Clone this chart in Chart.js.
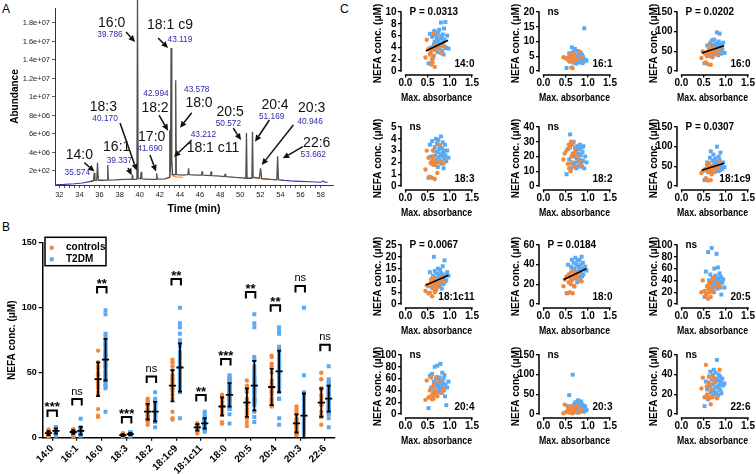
<!DOCTYPE html>
<html>
<head>
<meta charset="utf-8">
<script src="https://cdn.jsdelivr.net/npm/chart.js@4.4.1/dist/chart.umd.min.js"></script>
<style>
html,body{margin:0;padding:0;background:#fff;}
body{width:756px;height:474px;position:relative;overflow:hidden;font-family:'Liberation Sans',Arial,sans-serif;}
canvas{position:absolute;}
.panel{position:absolute;font-size:12px;line-height:12px;color:#000;}
</style>
</head>
<body>
<div class="panel" style="left:2px;top:3px">A</div>
<div class="panel" style="left:2px;top:221px">B</div>
<div class="panel" style="left:340px;top:3px">C</div>
<canvas id="chartA" width="340" height="216" style="left:0;top:0"></canvas>
<canvas id="chartB" width="345" height="258" style="left:0;top:216px"></canvas>
<script>
// ================= DATA =================
// ---- Panel A: chromatogram (time in min, abundance in units of 1e6) ----
const chromTime  = [35.2,35.40,35.47,35.54,35.72,35.80,35.88,36.3,36.76,36.82,36.88,37.5,38.5,39.22,39.28,39.34,39.72,39.78,39.84,40.08,40.14,40.2,41.0,41.63,41.69,41.75,42.5,42.93,42.99,43.06,43.12,43.17,43.21,43.27,43.52,43.58,43.64,44.3,44.80,44.86,44.92,45.6,46.14,46.2,46.26,47.04,47.1,47.16,48.0,48.44,48.5,48.56,49.5,50.2,50.56,50.62,50.68,51.16,51.22,51.28,51.9,52.02,52.14,53.0,53.64,53.72,53.8,54.3];
const chromAbund = [0.9,0.95,1.8,0.97,1.0,2.9,1.0,1.0,1.02,2.65,1.02,1.05,1.1,1.1,1.6,1.1,1.1,21,1.2,1.15,1.9,1.15,1.1,1.1,1.75,1.12,1.15,1.3,6.4,1.8,15.3,2.5,3.2,1.6,1.6,11.8,1.6,1.55,1.6,2.3,1.6,1.55,1.55,1.95,1.55,1.5,1.95,1.5,1.45,1.4,1.7,1.4,1.3,1.25,1.2,6.1,1.2,1.2,6.25,1.3,1.2,2.3,1.15,1.1,1.05,3.6,1.05,1.0];
const blueTime   = [31.6,32.5,33.5,34.3,35.0,35.4,null,54.1,55.0,56.0,57.0,58.0,58.3,58.4,58.7];
const blueAbund  = [0.52,0.55,0.62,0.7,0.85,0.93,null,1.0,0.93,0.88,0.84,0.79,0.92,0.8,0.78];
const orangeTime = [42.9,43.1,43.3,43.6,44.0,44.3,null,50.3,50.9,51.5,52.2,52.8];
const orangeAbund= [1.2,1.7,1.5,1.35,1.35,1.3,null,1.2,1.25,1.3,1.2,1.15];
const timeTicks = [32,34,36,38,40,42,44,46,48,50,52,54,56,58];
const abundTickValues = [2e6,4e6,6e6,8e6,1e7,1.2e7,1.4e7,1.6e7,1.8e7];
const abundTickLabels = ['2e+02','4e+06','6e+06','8e+06','1e+07','1.2e+07','1.4e+07','1.6e+07','1.8e+07'];
const peakLabels = ['14:0','16:1','16:0','18:3','17:0','18:2','18:1 c9','18:1 c11','18:0','20:5','20:4','20:3','22:6'];
const peakRTs    = ['35.574','39.337','39.786','40.170','41.690','42.994','43.119','43.212','43.578','50.572','51.169','40.946','53.662'];

// ---- Panel B / C: fatty acids, subjects ----
const FA = ['14:0','16:1','16:0','18:3','18:2','18:1c9','18:1c11','18:0','20:5','20:4','20:3','22:6'];
const seriesNames = ['controls','T2DM'];
const absCtrl = [0.45,0.48,0.52,0.55,0.57,0.58,0.60,0.61,0.62,0.63,0.64,0.66,0.68,0.70,0.72,0.75,0.80,0.86];
const absT2dm = [0.52,0.55,0.58,0.60,0.62,0.64,0.65,0.66,0.68,0.69,0.70,0.71,0.72,0.73,0.74,0.75,0.76,0.77,0.78,0.79,0.80,0.81,0.82,0.83,0.84,0.85,0.86,0.87,0.88,0.89,0.90,0.92,0.94,0.97];

const c14_0   = [2.3,5.3,3.8,2.8,3.2,1.1,2.0,1.5,3.6,6.4,2.6,0.7,4.4,3.9,3.8,4.0,3.0,4.2];
const c16_1   = [4.7,4.5,4.2,4.0,4.6,3.3,5.0,4.4,6.0,1.2,4.8,1.0,3.5,5.5,4.0,3.8,6.6,4.8];
const c16_0   = [33,50,45,22,38,48,17,40,55,67,44,16,50,35,58,48,42,53];
const c18_3   = [1.4,3.0,2.4,0.8,2.0,1.9,0.7,2.2,3.0,1.8,2.5,0.6,1.8,2.0,1.1,3.5,2.1,1.9];
const c18_2   = [18,22,24,15,28,12,26,10,30,20,16,29,22,13,25,20,17,14];
const c18_1c9 = [33,38,42,20,45,55,14,36,58,40,48,15,30,44,52,38,46,60];
const c18_1c11= [5.5,8.0,7.5,4.8,9.0,10.5,3.3,8.5,11.0,6.5,9.5,5.0,8.0,10.0,7.0,9.0,11.0,9.5];
const c18_0   = [18,25,28,11,22,30,12,26,20,33,24,11,28,18,32,26,30,23];
const c20_5   = [20,40,22,15,18,30,9,25,28,35,20,12,38,22,44,28,36,30];
const c20_4   = [24,57,28,40,30,62,25,44,35,26,50,33,38,63,30,55,36,42];
const c20_3   = [2,24,5,10,15,8,3,12,20,6,14,2,18,8,10,22,4,12];
const c22_6   = [26,37,17,50,28,20,17,32,38,16,30,10,25,17,37,33,16,45];

const t14_0   = [1.3,6.3,4.0,5.8,2.2,4.5,6.8,5.0,3.6,6.0,4.8,5.5,3.2,6.5,4.2,5.2,7.0,3.8,4.6,5.9,8.2,4.4,5.6,3.4,6.2,4.9,2.8,7.2,5.3,4.1,8.3,3.9,6.0,3.8];
const t16_1   = [1.0,4.5,6.0,3.2,5.5,8.0,4.2,3.5,6.5,2.8,5.0,7.5,3.8,4.4,2.5,5.2,3.0,6.8,4.0,3.3,5.8,4.6,2.9,3.6,6.2,4.1,3.4,5.4,2.7,4.8,3.1,14.5,3.9,3.5];
const t16_0   = [20,45,65,40,55,38,72,50,60,78,48,66,42,58,80,52,62,45,70,55,98,48,64,40,75,58,95,50,68,44,62,55,72,46];
const t18_3   = [0.7,3.5,2.5,3.8,2.0,3.0,1.8,3.3,2.6,4.0,2.2,3.6,2.9,1.6,3.9,2.4,3.1,2.0,3.4,2.7,4.2,1.9,3.2,2.5,3.7,2.8,1.5,3.0,2.3,3.5,2.6,2.1,3.0,2.4];
const t18_2   = [8,25,18,35,12,28,15,22,30,14,20,26,16,24,12,19,27,13,22,17,25,14,28,18,21,15,26,13,23,17,27,12,20,16];
const t18_1c9 = [15,40,60,35,55,72,45,88,50,38,65,47,80,42,58,36,70,52,44,62,100,48,56,38,75,46,66,40,85,50,58,44,60,48];
const t18_1c11= [4.5,13.5,9.0,7.0,12.0,20.0,8.5,14.0,10.0,6.0,13.0,11.0,9.5,15.0,7.5,12.5,10.5,8.0,14.5,11.5,9.0,13.0,6.5,12.0,16.0,10.0,8.5,11.0,18.5,9.5,12.5,10.0,13.5,12.0];
const t18_0   = [11,40,30,22,38,45,28,35,42,18,36,30,47,26,40,33,22,44,30,38,27,45,35,24,40,32,48,28,36,42,30,35,38,34];
const t20_5   = [12,55,30,88,40,25,50,35,95,28,45,32,38,20,60,42,30,48,36,85,40,26,62,34,44,30,52,38,28,46,16,36,42,28];
const t20_4   = [10,65,45,68,30,55,40,80,48,60,35,52,82,45,38,58,50,62,42,85,48,55,36,70,44,52,60,40,66,30,50,15,45,55];
const t20_3   = [5,20,48,8,12,3,15,100,10,25,6,18,30,12,8,22,14,4,35,10,28,16,9,20,12,32,7,18,24,11,15,6,20,10];
const t22_6   = [8,33,25,15,38,28,43,22,35,18,30,40,24,45,20,32,27,42,36,22,55,28,34,19,40,26,30,38,24,33,21,36,29,31];

const meanCtrl = [3.5,4.4,45,2.0,20,40,8,24,27,39,11,27];
const sdCtrl   = [1.5,1.5,13,0.8,6,12,2.5,7,11,14,7,11];
const meanT2dm = [5.2,5.3,60,2.8,20,54,11,33,40,51,17,30];
const sdT2dm   = [2,3,16,0.8,7.5,18.5,4,9,19,16,17,10];
const sigTop    = [21,29.7,116,16,47,122,32.8,60.6,112,101.8,116.7,71.5];
const sigLabels = ['***','ns','**','***','ns','**','**','***','**','**','ns','ns'];
const bTicks = [0,50,100,150];

// ---- Panel C ----
const cPLabels = ['P = 0.0313','ns','P = 0.0202','ns','ns','P = 0.0307','P = 0.0067','P = 0.0184','ns','ns','ns','ns'];
const cYTicks = [[0,2,4,6,8,10],[0,5,10,15,20],[0,50,100,150],[0,1,2,3,4,5],[0,10,20,30,40],[0,50,100,150],[0,5,10,15,20,25],[0,20,40,60],[0,20,40,60,80,100],[0,20,40,60,80,100],[0,50,100,150],[0,20,40,60]];
const absTicks = [0,0.5,1.0,1.5];
const absTickLabels = ['0.0','0.5','1.0','1.5'];
const fitLines = {'14:0':[0.46,3.4,0.96,5.2],'16:0':[0.46,46,0.96,64],'18:1c9':[0.46,40,0.96,58],'18:1c11':[0.46,8,0.97,12.2],'18:0':[0.46,25,0.97,36]};

const ctrlValues = [c14_0,c16_1,c16_0,c18_3,c18_2,c18_1c9,c18_1c11,c18_0,c20_5,c20_4,c20_3,c22_6];
const t2dmValues = [t14_0,t16_1,t16_0,t18_3,t18_2,t18_1c9,t18_1c11,t18_0,t20_5,t20_4,t20_3,t22_6];

// ================= LAYOUT / STYLE =================
const FONT = "'Liberation Sans', Arial, Helvetica, sans-serif";
Chart.defaults.font.family = FONT;
Chart.defaults.color = '#000';
const ORANGE = '#F4883A', BLUE = '#5AA9F3', RTBLUE = '#2a2ab0';
// annotation layout in data units: [labelT,labelV, rtT,rtV, arrowFromT,arrowFromV, arrowToT,arrowToV] (V in 1e6)
const annotLayout = [
 [33.99,3.73, 33.79,1.82, 34.49,2.90, 35.50,1.95],
 [37.71,4.63, 37.97,3.08, 38.84,2.32, 39.20,1.55],
 [37.21,17.97, 37.04,16.70, 38.64,17.03, 39.54,15.95],
 [36.38,8.89, 36.55,7.70, 38.04,7.19, 39.70,2.05],
 [41.19,5.71, 41.02,4.38, 41.02,3.73, 41.62,1.95],
 [41.52,8.84, 41.62,10.32, 41.92,8.05, 42.82,6.36],
 [43.01,17.78, 44.00,16.24, 41.82,16.38, 42.82,15.30],
 [47.29,4.52, 46.33,5.89, 45.17,5.35, 43.41,3.51],
 [45.90,9.32, 45.67,10.76, 45.17,8.30, 44.01,6.68],
 [48.99,8.41, 48.82,7.08, 49.31,6.62, 50.08,5.35],
 [53.46,9.14, 53.13,7.87, 52.90,7.51, 51.47,5.17],
 [57.11,8.78, 56.95,7.33, 55.28,6.97, 52.14,2.65],
 [57.61,4.99, 57.27,3.73, 56.22,4.63, 54.23,3.37]
];

function pts(xs, ys, scale) {
  return xs.map((t, k) => ({x: t === null ? null : t, y: ys[k] === null ? null : ys[k] * scale}));
}
function drawArrow(ctx, x1, y1, x2, y2) {
  const a = Math.atan2(y2 - y1, x2 - x1), L = 6.5, W = 3;
  const bx = x2 - L * Math.cos(a), by = y2 - L * Math.sin(a);
  ctx.beginPath(); ctx.moveTo(x1, y1); ctx.lineTo(bx, by); ctx.stroke();
  ctx.beginPath(); ctx.moveTo(x2, y2);
  ctx.lineTo(bx + W * Math.sin(a), by - W * Math.cos(a));
  ctx.lineTo(bx - W * Math.sin(a), by + W * Math.cos(a));
  ctx.closePath(); ctx.fill();
}

// ================= PANEL A =================
const annotPlugin = {
  id: 'chromAnnot',
  afterDatasetsDraw(chart) {
    const {ctx, scales: {x, y}} = chart;
    const px = t => x.getPixelForValue(t), py = v => y.getPixelForValue(v * 1e6);
    ctx.save();
    ctx.lineWidth = 1.5;
    peakLabels.forEach((name, i) => {
      const L = annotLayout[i];
      ctx.strokeStyle = '#111'; ctx.fillStyle = '#111';
      drawArrow(ctx, px(L[4]), py(L[5]), px(L[6]), py(L[7]));
      ctx.textAlign = 'center'; ctx.textBaseline = 'middle';
      ctx.font = '14px ' + FONT; ctx.fillStyle = '#111';
      ctx.fillText(name, px(L[0]), py(L[1]));
      ctx.font = '8.3px ' + FONT; ctx.fillStyle = RTBLUE;
      ctx.fillText(peakRTs[i], px(L[2]), py(L[3]));
    });
    ctx.restore();
  }
};
new Chart(document.getElementById('chartA'), {
  type: 'scatter',
  data: { datasets: [
    { data: pts(chromTime, chromAbund, 1e6), showLine: true, borderColor: '#505050', borderWidth: 1.3, pointRadius: 0, borderJoinStyle: 'bevel', clip: false },
    { data: pts(orangeTime, orangeAbund, 1e6), showLine: true, borderColor: ORANGE, borderWidth: 1.2, pointRadius: 0 },
    { data: pts(blueTime, blueAbund, 1e6), showLine: true, borderColor: '#3838c0', borderWidth: 1.1, pointRadius: 0 }
  ]},
  options: {
    responsive: false, animation: false, devicePixelRatio: 1,
    layout: { padding: { top: 8, right: 7, left: 0, bottom: 0 } },
    plugins: { legend: { display: false }, tooltip: { enabled: false } },
    scales: {
      x: { type: 'linear', min: 31.57, max: 59.23,
        afterBuildTicks: s => { const t = []; for (let k = 0; k < timeTicks.length; k++) { t.push({value: timeTicks[k]}); if (k < timeTicks.length - 1) { t.push({value: timeTicks[k] + 0.5}); t.push({value: timeTicks[k] + 1}); t.push({value: timeTicks[k] + 1.5}); } } s.ticks = t; },
        ticks: { autoSkip: false, maxRotation: 0, padding: 2, font: { size: 7.5 }, color: '#222',
          callback: v => timeTicks.includes(v) ? String(v) : '' },
        grid: { drawOnChartArea: false, tickLength: 3, color: '#333', lineWidth: 0.8 },
        border: { color: '#333', width: 1 },
        title: { display: true, text: 'Time (min)', font: { size: 10.5, weight: 'bold' }, padding: { top: 0, bottom: 0.7 } },
        afterFit: s => { s.height = 31; }
      },
      y: { min: 0.486e6, max: 19.62e6,
        afterBuildTicks: s => { s.ticks = abundTickValues.map(v => ({value: v})); },
        ticks: { autoSkip: false, padding: 2, font: { size: 7.5 }, color: '#222', callback: (v, i) => abundTickLabels[i] },
        grid: { drawOnChartArea: false, tickLength: 3, color: '#333', lineWidth: 0.8 },
        border: { color: '#333', width: 1 },
        title: { display: true, text: 'Abundance', font: { size: 10, weight: 'bold' }, padding: { top: 9, bottom: 0 } },
        afterFit: s => { s.width = 55; }
      }
    }
  },
  plugins: [annotPlugin]
});

// ================= PANEL B =================
const OFF = 0.15;
const panelBPlugin = {
  id: 'panelB',
  afterDatasetsDraw(chart) {
    const {ctx, scales: {x, y}, chartArea} = chart;
    ctx.save();
    ctx.strokeStyle = '#000'; ctx.fillStyle = '#000'; ctx.lineCap = 'butt';
    FA.forEach((f, i) => {
      [[i - OFF, meanCtrl[i], sdCtrl[i]], [i + OFF, meanT2dm[i], sdT2dm[i]]].forEach(([xv, m, sd]) => {
        const p = x.getPixelForValue(xv);
        const yT = y.getPixelForValue(m + sd), yB = y.getPixelForValue(Math.max(0, m - sd)), yM = y.getPixelForValue(m);
        ctx.lineWidth = 1.8;
        ctx.beginPath();
        ctx.moveTo(p, yT); ctx.lineTo(p, yB);
        ctx.moveTo(p - 3.6, yM); ctx.lineTo(p + 3.6, yM);
        ctx.moveTo(p - 2, yT); ctx.lineTo(p + 2, yT);
        ctx.moveTo(p - 2, yB); ctx.lineTo(p + 2, yB);
        ctx.stroke();
      });
      const xl = x.getPixelForValue(i - OFF) - 1, xr = x.getPixelForValue(i + OFF) + 1;
      const yb = y.getPixelForValue(sigTop[i]), cx = (xl + xr) / 2;
      ctx.lineWidth = 2;
      ctx.beginPath(); ctx.moveTo(xl, yb + 6.5); ctx.lineTo(xl, yb); ctx.lineTo(xr, yb); ctx.lineTo(xr, yb + 6.5); ctx.stroke();
      ctx.textAlign = 'center'; ctx.textBaseline = 'alphabetic';
      if (sigLabels[i] === 'ns') { ctx.font = '11px ' + FONT; ctx.fillText(sigLabels[i], cx, yb - 4.5); }
      else { ctx.font = 'bold 13px ' + FONT; ctx.fillText(sigLabels[i], cx, yb + 1); }
    });
    // legend box
    const L = chartArea.left, T = chartArea.top;
    ctx.lineWidth = 1.5; ctx.strokeStyle = '#000';
    ctx.strokeRect(L + 2.3, T - 5.4, 61, 28.4);
    ctx.fillStyle = ORANGE; ctx.beginPath(); ctx.arc(L + 9, T + 5, 2.2, 0, Math.PI * 2); ctx.fill();
    ctx.fillStyle = BLUE; ctx.fillRect(L + 7, T + 14.6, 4, 4);
    ctx.fillStyle = '#000'; ctx.font = 'bold 10px ' + FONT; ctx.textAlign = 'left'; ctx.textBaseline = 'middle';
    ctx.fillText(seriesNames[0], L + 23.3, T + 5);
    ctx.fillText(seriesNames[1], L + 23.3, T + 16.6);
    ctx.restore();
  }
};
new Chart(document.getElementById('chartB'), {
  type: 'scatter',
  data: { datasets: [
    { label: seriesNames[0], data: FA.flatMap((f, i) => ctrlValues[i].map(v => ({x: i - OFF, y: v}))), pointStyle: 'circle', pointRadius: 2.2, backgroundColor: ORANGE, borderWidth: 0 },
    { label: seriesNames[1], data: FA.flatMap((f, i) => t2dmValues[i].map(v => ({x: i + OFF, y: v}))), pointStyle: 'rect', pointRadius: 2.8, backgroundColor: BLUE, borderWidth: 0 }
  ]},
  options: {
    responsive: false, animation: false, devicePixelRatio: 1,
    layout: { padding: { top: 26.7, right: 10, left: 0, bottom: 0 } },
    plugins: { legend: { display: false }, tooltip: { enabled: false } },
    scales: {
      x: { type: 'linear', min: -0.383, max: 11.403,
        afterBuildTicks: s => { s.ticks = FA.map((f, i) => ({value: i})); },
        ticks: { autoSkip: false, minRotation: 45, maxRotation: 45, padding: 2, font: { size: 10, weight: 'bold' },
          callback: v => FA[Math.round(v)] },
        grid: { drawOnChartArea: false, tickLength: 3, color: '#000', lineWidth: 1.2 },
        border: { color: '#000', width: 1.5 },
        afterFit: s => { s.height = 36.3; }
      },
      y: { min: 0, max: 150,
        afterBuildTicks: s => { s.ticks = bTicks.map(v => ({value: v})); },
        ticks: { autoSkip: false, padding: 2, font: { size: 9, weight: 'bold' } },
        grid: { drawOnChartArea: false, tickLength: 4, color: '#000', lineWidth: 1.2 },
        border: { color: '#000', width: 1.5 },
        title: { display: true, text: 'NEFA conc. (μM)', font: { size: 10, weight: 'bold' }, padding: { top: 6.5, bottom: 0 } },
        afterFit: s => { s.width = 42.7; }
      }
    }
  },
  plugins: [panelBPlugin]
});

// ================= PANEL C =================
const C_X0 = [405, 543, 681];          // page x of absorbance 0 per column
const C_YTOP = [12.3, 127.3, 245, 355]; // page y of top tick per row
const C_YW = 36, C_AXOFF = 4.5, C_W = 67, C_PR = 10, C_PT = 8, C_H = 59.5, C_XOFF = 4, C_XH = 31;
const cellPlugin = {
  id: 'cell',
  afterDraw(chart) {
    const i = chart.options.plugins.cell.index;
    const {ctx, scales: {x, y}, chartArea} = chart;
    const ticks = cYTicks[i], yMax = ticks[ticks.length - 1];
    ctx.save();
    ctx.strokeStyle = '#000'; ctx.lineWidth = 1.5;
    ctx.beginPath();
    ctx.moveTo(chartArea.left, y.getPixelForValue(yMax) - 0.7); ctx.lineTo(chartArea.left, y.getPixelForValue(0) + 0.7);
    ctx.moveTo(x.getPixelForValue(0) - 0.7, chartArea.bottom); ctx.lineTo(x.getPixelForValue(1.5) + 0.7, chartArea.bottom);
    ctx.stroke();
    ctx.fillStyle = '#000'; ctx.font = 'bold 10px ' + FONT; ctx.textBaseline = 'middle';
    ctx.textAlign = 'left'; ctx.fillText(cPLabels[i], chartArea.left + 8.5, y.getPixelForValue(yMax));
    ctx.textAlign = 'right'; ctx.fillText(FA[i], x.getPixelForValue(1.5) + 2.5, y.getPixelForValue(0) - 7);
    ctx.restore();
  }
};
FA.forEach((fa, i) => {
  const col = i % 3, row = Math.floor(i / 3);
  const cv = document.createElement('canvas');
  const W = C_YW + C_AXOFF + C_W + C_PR, H = C_PT + C_H + C_XOFF + C_XH;
  cv.width = W; cv.height = H;
  cv.style.left = (C_X0[col] - C_AXOFF - C_YW) + 'px';
  cv.style.top = (C_YTOP[row] - C_PT) + 'px';
  document.body.appendChild(cv);
  const ticks = cYTicks[i], yMax = ticks[ticks.length - 1];
  const yMin = -yMax * C_XOFF / C_H;
  const fit = fitLines[fa];
  new Chart(cv, {
    type: 'scatter',
    data: { datasets: [
      { type: 'line', data: fit ? [{x: fit[0], y: fit[1]}, {x: fit[2], y: fit[3]}] : [], borderColor: '#000', borderWidth: 1.6, pointRadius: 0, fill: false },
      { data: ctrlValues[i].map((v, k) => ({x: absCtrl[k], y: v})), backgroundColor: ORANGE, pointStyle: 'circle', pointRadius: 2.2, borderWidth: 0 },
      { data: t2dmValues[i].map((v, k) => ({x: absT2dm[k], y: v})), backgroundColor: BLUE, pointStyle: 'rect', pointRadius: 2.8, borderWidth: 0 }
    ]},
    options: {
      responsive: false, animation: false, devicePixelRatio: 1,
      layout: { padding: { top: C_PT, right: C_PR, left: 0, bottom: 0 } },
      plugins: { legend: { display: false }, tooltip: { enabled: false }, cell: { index: i } },
      scales: {
        x: { type: 'linear', min: -C_AXOFF / (C_W / 1.5), max: 1.5,
          afterBuildTicks: s => { s.ticks = absTicks.map(v => ({value: v})); },
          ticks: { autoSkip: false, maxRotation: 0, padding: 0, font: { size: 10, weight: 'bold' },
            callback: (v, k) => absTickLabels[k] },
          grid: { drawOnChartArea: false, tickLength: 2.5, color: '#000', lineWidth: 1.3 },
          border: { display: false },
          title: { display: true, text: 'Max. absorbance', font: { size: 10, weight: 'bold' }, padding: { top: 0, bottom: 1.5 } },
          afterFit: s => { s.height = C_XH; }
        },
        y: { type: 'linear', min: yMin, max: yMax,
          afterBuildTicks: s => { s.ticks = ticks.map(v => ({value: v})); },
          ticks: { autoSkip: false, padding: 1.5, font: { size: 10, weight: 'bold' } },
          grid: { drawOnChartArea: false, tickLength: 3, color: '#000', lineWidth: 1.3 },
          border: { display: false },
          title: { display: true, text: 'NEFA conc. (μM)', font: { size: 10, weight: 'bold' }, padding: { top: 7.5, bottom: 0 } },
          afterFit: s => { s.width = C_YW; }
        }
      }
    },
    plugins: [cellPlugin]
  });
});
</script>
</body>
</html>
